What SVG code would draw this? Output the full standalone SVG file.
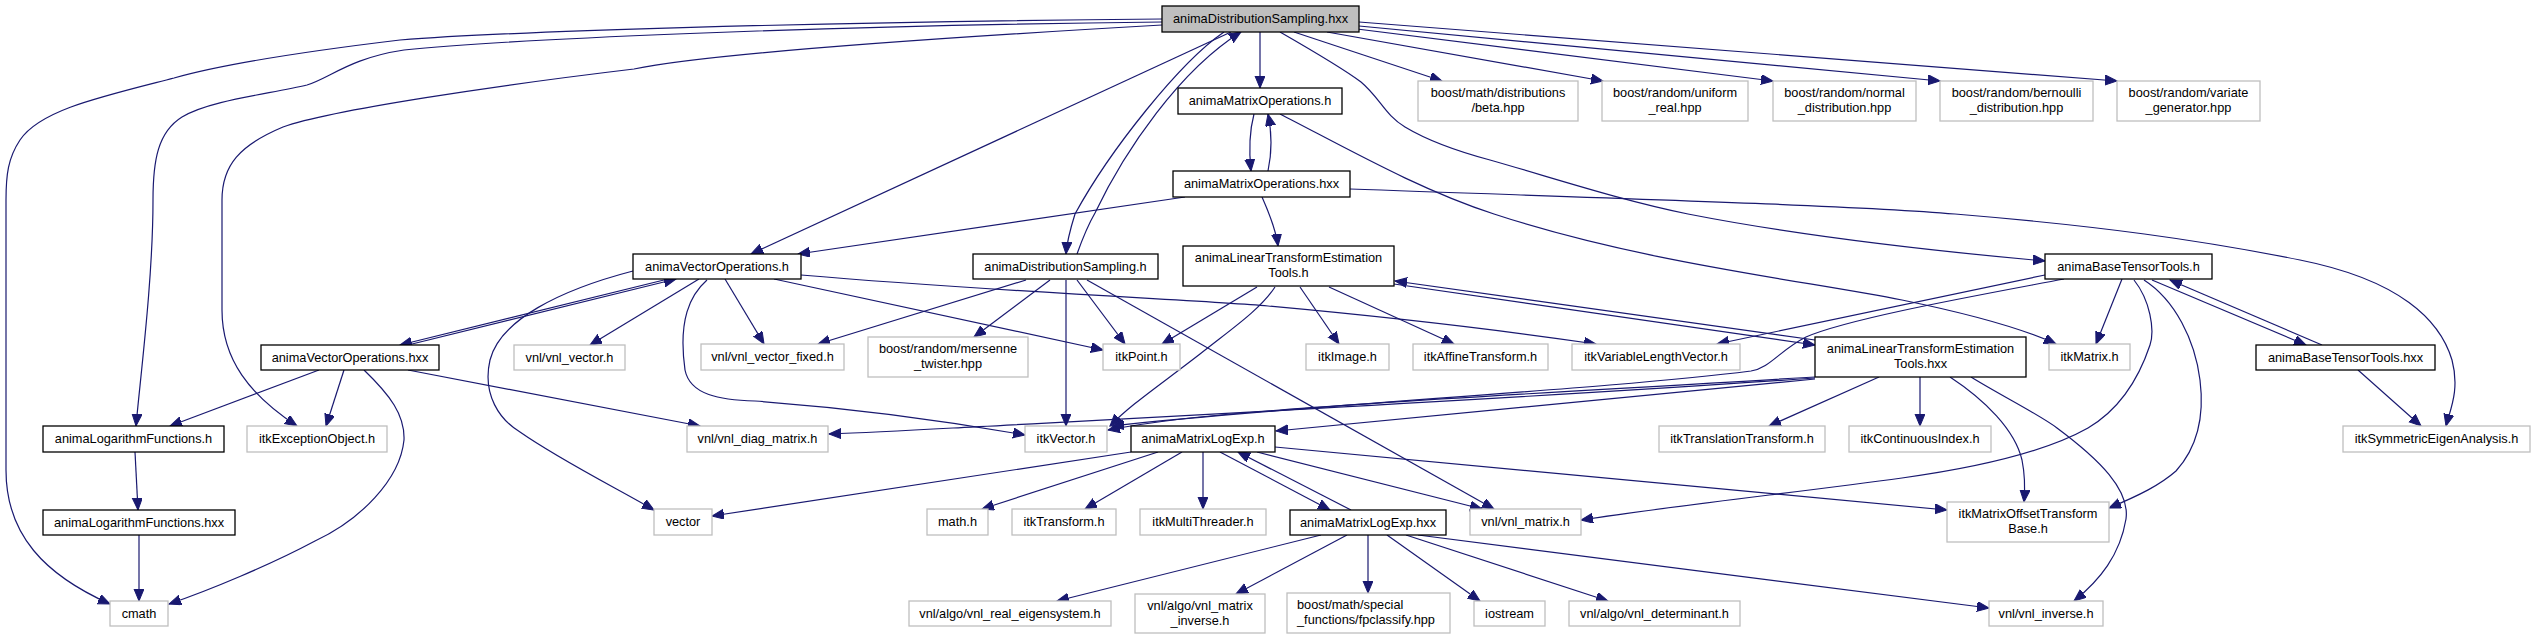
<svg xmlns="http://www.w3.org/2000/svg" width="2535" height="640" viewBox="0 0 2535 640">
<defs>
<marker id="ah" markerUnits="userSpaceOnUse" markerWidth="14" markerHeight="12" refX="12" refY="5" orient="auto">
<path d="M0,0 L12,5 L0,10 z" fill="#191970" stroke="#191970" stroke-width="1"/>
</marker>
</defs>
<style>
rect{stroke-width:1.3}
.p{fill:#ffffff;stroke:#000000}
.x{fill:#ffffff;stroke:#bfbfbf}
.r{fill:#bfbfbf;stroke:#000000}
text{font-family:"Liberation Sans",Arial,Helvetica,sans-serif;font-size:12.75px;fill:#000000;text-anchor:middle}
text.l{text-anchor:start}
#edges path{fill:none;stroke:#191970;stroke-width:1.2;marker-end:url(#ah)}
</style>
<rect width="2535" height="640" fill="#ffffff"/>
<g id="edges">
<path d="M1162,19 C800,22 500,32 400,40 C300,52 220,65 174,78 C100,97 40,110 20,140 C8,158 6,175 6,200 L6,470 C6,535 45,575 110,604"/>
<path d="M1162,22 C800,26 500,40 404,50 C350,58 330,78 307,85 C270,94 210,100 182,117 C158,132 153,160 153,200 C153,280 140,380 136,426"/>
<path d="M1162,25 C900,40 700,55 634,69 C500,85 330,110 283,127 C240,145 222,165 222,200 L222,310 C222,360 250,395 297,426"/>
<path d="M1231,32 L751,254"/>
<path d="M1224,32 C1180,62 1110,150 1075,214 C1070,230 1067,240 1066,254"/>
<path d="M1077,254 C1082,240 1088,225 1095,213 C1125,150 1180,70 1241,32"/>
<path d="M1260,32 L1260,88"/>
<path d="M1294,32 L1442,81"/>
<path d="M1327,32 L1603,81"/>
<path d="M1349,28 L1773,81"/>
<path d="M1359,26 L1940,81"/>
<path d="M1359,22 L2117,81"/>
<path d="M1280,32 C1320,55 1345,70 1361,82 C1380,98 1385,115 1405,127 C1430,142 1460,152 1490,160 C1560,180 1620,200 1688,214 C1780,232 1900,248 2045,261"/>
<path d="M1280,114 C1350,150 1420,190 1494,214 C1640,262 1800,280 1902,300 C1980,316 2030,332 2056,344"/>
<path d="M1350,189 C1600,198 1850,205 1955,214 C2100,226 2200,240 2300,260 C2400,280 2440,320 2452,360 C2460,390 2450,410 2446,426"/>
<path d="M1254,114 C1249,133 1249,152 1251,171"/>
<path d="M1268,171 C1272,152 1272,133 1268,114"/>
<path d="M1185,197 L798,254"/>
<path d="M1262,197 C1270,215 1276,230 1278,246"/>
<path d="M668,279 L400,345"/>
<path d="M408,345 L676,279"/>
<path d="M633,271 C560,290 500,320 490,360 C482,395 500,420 520,432 C560,460 620,490 654,510"/>
<path d="M699,279 L590,345"/>
<path d="M725,279 L764,344"/>
<path d="M774,279 L1103,350"/>
<path d="M801,275 C1000,292 1200,300 1268,306 C1400,318 1500,330 1596,344"/>
<path d="M707,280 C690,295 678,320 685,370 C690,395 720,400 755,401 C850,408 930,418 1025,435"/>
<path d="M319,370 L170,426"/>
<path d="M344,370 L326,426"/>
<path d="M364,370 C390,395 405,415 404,440 C400,480 360,520 315,541 C270,565 210,590 169,604"/>
<path d="M408,370 L700,426"/>
<path d="M1026,280 L818,344"/>
<path d="M1050,280 L974,337"/>
<path d="M1077,280 L1125,344"/>
<path d="M1066,280 L1066,426"/>
<path d="M1087,280 L1494,509"/>
<path d="M1257,287 L1162,344"/>
<path d="M1275,287 C1260,310 1230,330 1200,354 C1160,385 1130,405 1110,426"/>
<path d="M1300,287 L1339,344"/>
<path d="M1329,287 L1454,344"/>
<path d="M1394,284 L1815,345"/>
<path d="M1815,340 L1395,281"/>
<path d="M1879,377 L1769,426"/>
<path d="M1920,377 L1920,426"/>
<path d="M1950,377 C1985,400 2015,430 2022,460 C2025,475 2025,490 2024,502"/>
<path d="M1971,377 C2000,395 2040,415 2057,428 C2100,460 2130,490 2126,519 C2120,555 2100,580 2074,601"/>
<path d="M1815,379 L1276,431"/>
<path d="M1815,377 C1600,390 1400,400 1268,411 C1200,416 1150,422 1108,430"/>
<path d="M1815,378 C1500,400 1100,420 953,428 C900,431 860,433 829,434"/>
<path d="M2122,279 L2096,344"/>
<path d="M2045,275 L1717,344"/>
<path d="M2064,279 C1980,295 1850,318 1806,337 C1780,350 1770,368 1751,371 C1600,390 1300,405 1112,426"/>
<path d="M2134,280 C2150,300 2155,330 2150,345 C2135,390 2110,415 2088,428 C2040,455 1960,470 1902,478 C1800,492 1680,505 1581,520"/>
<path d="M2144,280 C2175,300 2195,340 2200,380 C2205,420 2195,450 2176,471 C2160,485 2140,495 2109,508"/>
<path d="M2152,280 L2306,345"/>
<path d="M2322,345 L2170,280"/>
<path d="M2358,370 L2421,426"/>
<path d="M1131,452 L712,516"/>
<path d="M1158,452 L982,509"/>
<path d="M1182,452 L1085,509"/>
<path d="M1203,452 L1203,509"/>
<path d="M1220,452 L1330,510"/>
<path d="M1351,510 L1238,452"/>
<path d="M1257,452 L1482,509"/>
<path d="M1275,447 L1947,510"/>
<path d="M1321,535 L1057,601"/>
<path d="M1347,535 L1236,594"/>
<path d="M1368,535 L1368,593"/>
<path d="M1387,535 L1480,601"/>
<path d="M1406,535 L1608,601"/>
<path d="M1418,535 L1989,608"/>
<path d="M135,452 L138,510"/>
<path d="M139,535 L139,601"/>
</g>
<g id="n_top"><rect class="r" x="1162" y="6" width="197" height="26"/><text x="1260.5" y="23">animaDistributionSampling.hxx</text></g>
<g id="n_beta"><rect class="x" x="1418" y="81" width="160" height="40"/><text x="1498" y="97">boost/math/distributions</text><text x="1498" y="112">/beta.hpp</text></g>
<g id="n_uniform"><rect class="x" x="1602" y="81" width="146" height="40"/><text x="1675" y="97">boost/random/uniform</text><text x="1675" y="112">_real.hpp</text></g>
<g id="n_normal"><rect class="x" x="1773" y="81" width="143" height="40"/><text x="1844.5" y="97">boost/random/normal</text><text x="1844.5" y="112">_distribution.hpp</text></g>
<g id="n_bernoulli"><rect class="x" x="1940" y="81" width="153" height="40"/><text x="2016.5" y="97">boost/random/bernoulli</text><text x="2016.5" y="112">_distribution.hpp</text></g>
<g id="n_variate"><rect class="x" x="2117" y="81" width="143" height="40"/><text x="2188.5" y="97">boost/random/variate</text><text x="2188.5" y="112">_generator.hpp</text></g>
<g id="n_mo_h"><rect class="p" x="1178" y="88" width="164" height="26"/><text x="1260" y="105">animaMatrixOperations.h</text></g>
<g id="n_mo_hxx"><rect class="p" x="1173" y="171" width="177" height="26"/><text x="1261.5" y="188">animaMatrixOperations.hxx</text></g>
<g id="n_avo_h"><rect class="p" x="633" y="254" width="168" height="25"/><text x="717" y="271">animaVectorOperations.h</text></g>
<g id="n_ads_h"><rect class="p" x="973" y="254" width="185" height="25"/><text x="1065.5" y="271">animaDistributionSampling.h</text></g>
<g id="n_lte_h"><rect class="p" x="1183" y="246" width="211" height="40"/><text x="1288.5" y="262">animaLinearTransformEstimation</text><text x="1288.5" y="277">Tools.h</text></g>
<g id="n_abt_h"><rect class="p" x="2045" y="254" width="167" height="25"/><text x="2128.5" y="271">animaBaseTensorTools.h</text></g>
<g id="n_avo_hxx"><rect class="p" x="261" y="345" width="178" height="25"/><text x="350" y="362">animaVectorOperations.hxx</text></g>
<g id="n_vnl_vector"><rect class="x" x="514" y="345" width="111" height="25"/><text x="569.5" y="362">vnl/vnl_vector.h</text></g>
<g id="n_vnl_vector_fixed"><rect class="x" x="701" y="344" width="143" height="26"/><text x="772.5" y="361">vnl/vnl_vector_fixed.h</text></g>
<g id="n_mersenne"><rect class="x" x="868" y="337" width="160" height="40"/><text x="948" y="353">boost/random/mersenne</text><text x="948" y="368">_twister.hpp</text></g>
<g id="n_itkpoint"><rect class="x" x="1103" y="344" width="77" height="26"/><text x="1141.5" y="361">itkPoint.h</text></g>
<g id="n_itkimage"><rect class="x" x="1306" y="344" width="83" height="26"/><text x="1347.5" y="361">itkImage.h</text></g>
<g id="n_itkaffine"><rect class="x" x="1413" y="344" width="135" height="26"/><text x="1480.5" y="361">itkAffineTransform.h</text></g>
<g id="n_itkvlv"><rect class="x" x="1572" y="344" width="168" height="26"/><text x="1656" y="361">itkVariableLengthVector.h</text></g>
<g id="n_lte_hxx"><rect class="p" x="1815" y="337" width="211" height="40"/><text x="1920.5" y="353">animaLinearTransformEstimation</text><text x="1920.5" y="368">Tools.hxx</text></g>
<g id="n_itkmatrix"><rect class="x" x="2049" y="344" width="81" height="26"/><text x="2089.5" y="361">itkMatrix.h</text></g>
<g id="n_abt_hxx"><rect class="p" x="2256" y="345" width="179" height="25"/><text x="2345.5" y="362">animaBaseTensorTools.hxx</text></g>
<g id="n_alf_h"><rect class="p" x="43" y="426" width="181" height="26"/><text x="133.5" y="443">animaLogarithmFunctions.h</text></g>
<g id="n_itkexc"><rect class="x" x="247" y="426" width="140" height="26"/><text x="317" y="443">itkExceptionObject.h</text></g>
<g id="n_diag"><rect class="x" x="687" y="426" width="141" height="26"/><text x="757.5" y="443">vnl/vnl_diag_matrix.h</text></g>
<g id="n_itkvector"><rect class="x" x="1025" y="426" width="82" height="26"/><text x="1066" y="443">itkVector.h</text></g>
<g id="n_amle_h"><rect class="p" x="1131" y="426" width="144" height="26"/><text x="1203" y="443">animaMatrixLogExp.h</text></g>
<g id="n_itktrans"><rect class="x" x="1659" y="426" width="166" height="26"/><text x="1742" y="443">itkTranslationTransform.h</text></g>
<g id="n_itkcont"><rect class="x" x="1849" y="426" width="142" height="26"/><text x="1920" y="443">itkContinuousIndex.h</text></g>
<g id="n_itksym"><rect class="x" x="2343" y="426" width="187" height="26"/><text x="2436.5" y="443">itkSymmetricEigenAnalysis.h</text></g>
<g id="n_alf_hxx"><rect class="p" x="43" y="510" width="192" height="25"/><text x="139" y="527">animaLogarithmFunctions.hxx</text></g>
<g id="n_vector"><rect class="x" x="654" y="509" width="58" height="26"/><text x="683" y="526">vector</text></g>
<g id="n_math"><rect class="x" x="927" y="509" width="61" height="26"/><text x="957.5" y="526">math.h</text></g>
<g id="n_itktransform"><rect class="x" x="1012" y="509" width="104" height="26"/><text x="1064" y="526">itkTransform.h</text></g>
<g id="n_itkmt"><rect class="x" x="1140" y="509" width="126" height="26"/><text x="1203" y="526">itkMultiThreader.h</text></g>
<g id="n_amle_hxx"><rect class="p" x="1290" y="510" width="156" height="25"/><text x="1368" y="527">animaMatrixLogExp.hxx</text></g>
<g id="n_vnl_matrix"><rect class="x" x="1470" y="509" width="111" height="26"/><text x="1525.5" y="526">vnl/vnl_matrix.h</text></g>
<g id="n_motb"><rect class="x" x="1947" y="502" width="162" height="40"/><text x="2028" y="518">itkMatrixOffsetTransform</text><text x="2028" y="533">Base.h</text></g>
<g id="n_cmath"><rect class="x" x="110" y="601" width="58" height="25"/><text x="139" y="618">cmath</text></g>
<g id="n_eigen"><rect class="x" x="909" y="601" width="202" height="25"/><text x="1010" y="618">vnl/algo/vnl_real_eigensystem.h</text></g>
<g id="n_minv"><rect class="x" x="1135" y="594" width="130" height="39"/><text x="1200" y="610">vnl/algo/vnl_matrix</text><text x="1200" y="625">_inverse.h</text></g>
<g id="n_fpc"><rect class="x" x="1287" y="593" width="163" height="40"/><text class="l" x="1297" y="609">boost/math/special</text><text class="l" x="1297" y="624">_functions/fpclassify.hpp</text></g>
<g id="n_iostream"><rect class="x" x="1474" y="601" width="71" height="25"/><text x="1509.5" y="618">iostream</text></g>
<g id="n_det"><rect class="x" x="1569" y="601" width="171" height="25"/><text x="1654.5" y="618">vnl/algo/vnl_determinant.h</text></g>
<g id="n_vnlinv"><rect class="x" x="1989" y="601" width="114" height="25"/><text x="2046" y="618">vnl/vnl_inverse.h</text></g>
</svg>
